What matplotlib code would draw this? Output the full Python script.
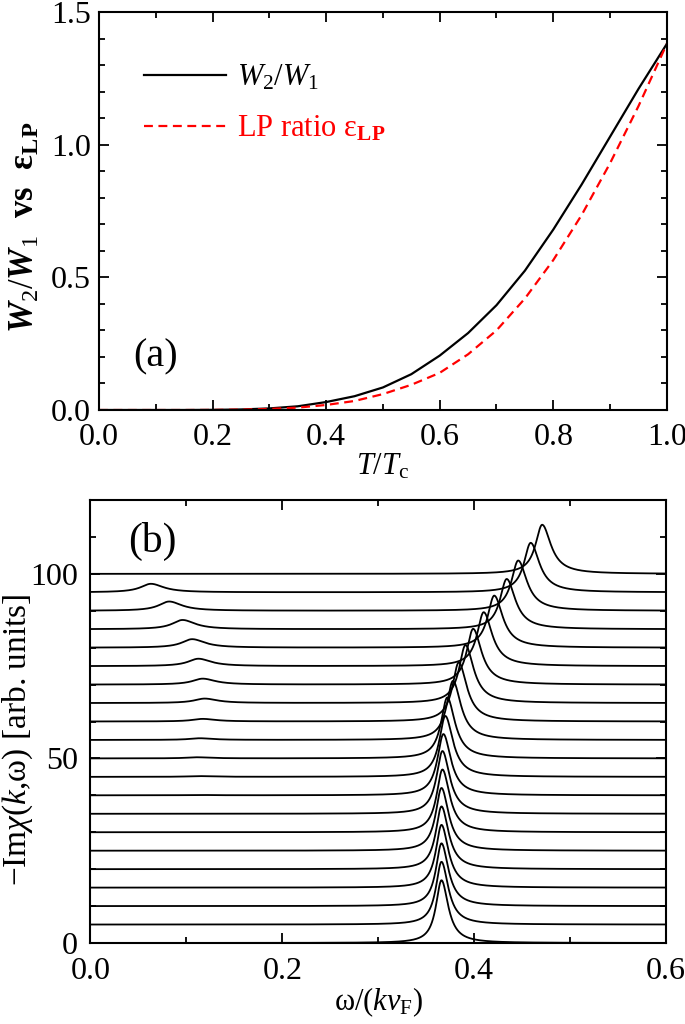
import numpy as np
import matplotlib
matplotlib.use('Agg')
import matplotlib.pyplot as plt
from matplotlib.ticker import MultipleLocator

plt.rcParams['font.family'] = ['Liberation Serif', 'DejaVu Serif']
plt.rcParams['mathtext.fontset'] = 'custom'
plt.rcParams['mathtext.rm'] = 'Liberation Serif'
plt.rcParams['mathtext.it'] = 'Liberation Serif:italic'
plt.rcParams['mathtext.bf'] = 'Liberation Serif:bold'
plt.rcParams['mathtext.bfit'] = 'Liberation Serif:italic:bold'

# panel (a): W2/W1 and LP ratio vs T/Tc
t_tc = [0.0, 0.05, 0.1, 0.15, 0.2, 0.25, 0.3, 0.35, 0.4, 0.45, 0.5,
        0.55, 0.6, 0.65, 0.7, 0.75, 0.8, 0.85, 0.9, 0.95, 1.0]
w_ratio = [0.0, 0.0, 0.0, 0.0, 0.0005, 0.002, 0.006, 0.014, 0.03, 0.052, 0.085,
           0.135, 0.205, 0.29, 0.395, 0.525, 0.68, 0.85, 1.03, 1.21, 1.38]
lp_ratio = [0.0, 0.0, 0.0, 0.0, 0.0004, 0.0015, 0.004, 0.009, 0.019, 0.034, 0.06,
            0.095, 0.14, 0.21, 0.30, 0.42, 0.565, 0.735, 0.93, 1.145, 1.38]

# panel (b): spectra, one per offset
offsets = [0, 5, 10, 15, 20, 25, 30, 35, 40, 45, 50,
           55, 60, 65, 70, 75, 80, 85, 90, 95, 100]
main_pos = [0.366, 0.366, 0.366, 0.366, 0.366, 0.366, 0.367, 0.367, 0.368, 0.370, 0.372,
            0.378, 0.384, 0.391, 0.399, 0.410, 0.421, 0.434, 0.446, 0.459, 0.471]
main_height = [17.0, 17.0, 17.0, 17.0, 17.0, 17.0, 17.0, 17.0, 16.6, 16.5, 16.5,
               16.0, 16.0, 15.7, 15.1, 14.6, 14.1, 13.6, 13.6, 13.4, 13.3]
main_wl = [0.007, 0.007, 0.007, 0.0071, 0.0072, 0.0073, 0.0074, 0.0075, 0.0076, 0.0077, 0.0078,
           0.0079, 0.008, 0.0081, 0.0082, 0.0083, 0.0084, 0.0085, 0.0085, 0.0085, 0.0085]
main_wr = [0.0085, 0.0086, 0.0087, 0.0088, 0.0089, 0.009, 0.0091, 0.0092, 0.0094, 0.0096, 0.0098,
           0.01, 0.0102, 0.0104, 0.0106, 0.0107, 0.0108, 0.0109, 0.011, 0.011, 0.011]
side_pos = [0.11, 0.11, 0.11, 0.11, 0.11, 0.11, 0.11, 0.11, 0.111, 0.112, 0.111,
            0.114, 0.117, 0.119, 0.117, 0.1125, 0.106, 0.096, 0.082, 0.063, 0.05]
side_height = [0.0, 0.0, 0.0, 0.0, 0.0, 0.0, 0.0, 0.0, 0.1, 0.2, 0.3,
               0.45, 0.7, 1.2, 1.6, 2.0, 2.3, 2.5, 2.5, 2.3, 0.0]

omega = np.linspace(0.0, 0.6, 1501)


def peak(x, x0, h, gl, gr):
    g = np.where(x < x0, gl, gr)
    return h / (1.0 + ((x - x0) / g) ** 2)


fig = plt.figure(figsize=(6.85, 10.24), dpi=100)
ax1 = fig.add_axes([0.1445, 0.5996, 0.829, 0.3887])
ax2 = fig.add_axes([0.1321, 0.0791, 0.840, 0.4326])

ax1.plot(t_tc, w_ratio, color='black', lw=1.6, label=r'$W_2/W_1$')
ax1.plot(t_tc, lp_ratio, color='red', lw=1.6, ls=(0, (4, 2.5)),
         label=r'LP ratio ε$_{\mathbf{LP}}$')
ax1.set_xlim(0, 1)
ax1.set_ylim(0, 1.5)
ax1.xaxis.set_major_locator(MultipleLocator(0.2))
ax1.xaxis.set_minor_locator(MultipleLocator(0.1))
ax1.yaxis.set_major_locator(MultipleLocator(0.5))
ax1.yaxis.set_minor_locator(MultipleLocator(0.1))
ax1.set_xlabel(r'$T/T_{\mathrm{c}}$', fontsize=22, labelpad=0)
ax1.set_ylabel(r'$\mathbfit{W}_2/\mathbfit{W}_1$  vs  ε$_{\mathbf{LP}}$', fontsize=25,
               fontweight='bold')
ax1.yaxis.set_label_coords(-0.10, 0.46)
ax1.text(0.06, 0.2, '(a)', fontsize=29, va='center')
ax1.legend(loc='upper left', bbox_to_anchor=(0.03, 0.94), frameon=False,
           fontsize=22, handlelength=2.7, handletextpad=0.35, labelspacing=0.69,
           labelcolor='linecolor')

for i in range(len(offsets)):
    y = offsets[i] + peak(omega, main_pos[i], main_height[i], main_wl[i], main_wr[i])
    y = y + peak(omega, side_pos[i], side_height[i], 0.013, 0.016)
    ax2.plot(omega, y, color='black', lw=1.3)

ax2.set_xlim(0, 0.6)
ax2.set_ylim(0, 120)
ax2.xaxis.set_major_locator(MultipleLocator(0.2))
ax2.xaxis.set_minor_locator(MultipleLocator(0.1))
ax2.yaxis.set_major_locator(MultipleLocator(50))
ax2.yaxis.set_minor_locator(MultipleLocator(10))
ax2.set_xlabel(r'ω/($kv_{\mathrm{F}}$)', fontsize=22, labelpad=0)
ax2.set_ylabel(r'$-$Im$\chi$($k$,ω) [arb. units]', fontsize=24)
ax2.yaxis.set_label_coords(-0.096, 0.458)
ax2.text(0.039, 108.7, '(b)', fontsize=30, va='center')

for ax in (ax1, ax2):
    ax.tick_params(which='both', direction='in', top=True, right=True,
                   labelsize=23, width=1.3)
    ax.tick_params(which='major', length=7)
    ax.tick_params(which='minor', length=4)
    ax.tick_params(axis='x', pad=9)
    ax.tick_params(axis='y', pad=6)
    for s in ax.spines.values():
        s.set_linewidth(1.5)
ax2.tick_params(axis='y', pad=9)
ax2.tick_params(axis='x', pad=10)

fig.savefig('out.png', dpi=100)
